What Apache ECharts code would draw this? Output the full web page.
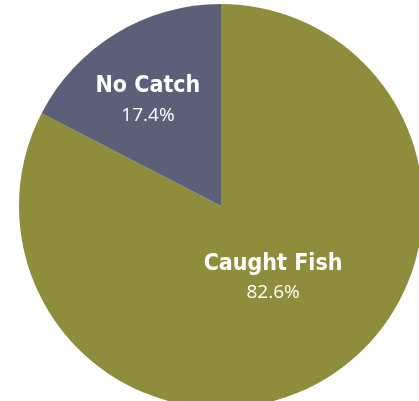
<!DOCTYPE html>
<html>
	<head>
		<meta charset="utf-8" />
		<title>Catch</title>
		<script src="https://cdn.jsdelivr.net/npm/echarts@6/dist/echarts.min.js"></script>
		<style>
			body { margin: 0; background: #fff; }
			#main { width: 419px; height: 401px; }
		</style>
	</head>
	<body>
		<div id="main"></div>
	<script>
	// data
	var categories = ['Caught Fish', 'No Catch'];
	var percents = [82.6, 17.4];
	var colors = ['#8e8d3b', '#5b5f78'];
	var labelOffsets = [[-2, -17], [-19, -17]];

	var chart = echarts.init(document.getElementById('main'));

	var pieData = categories.map(function (name, i) {
		return {
			name: name,
			value: percents[i],
			itemStyle: { color: colors[i] },
			label: { offset: labelOffsets[i] }
		};
	});

	var option = {
		animation: false,
		series: [{
			type: 'pie',
			center: [221, 206],
			radius: 202,
			startAngle: 90,
			clockwise: true,
			itemStyle: { borderWidth: 0 },
			label: {
				show: true,
				position: 'inside',
				formatter: function (p) {
					return '{n|' + p.name + '}\n{v|' + p.value.toFixed(1) + '%}';
				},
				rich: {
					n: {
						fontFamily: '"DejaVu Sans Condensed", sans-serif',
						fontWeight: 'bold',
						fontSize: 23,
						color: '#fff',
						lineHeight: 30
					},
					v: {
						fontFamily: '"Open Sans", sans-serif',
						fontSize: 19,
						color: '#fff',
						lineHeight: 28
					}
				}
			},
			labelLine: { show: false },
			emphasis: { disabled: true },
			data: pieData
		}]
	};

	chart.setOption(option);
	</script>
	</body>
</html>
